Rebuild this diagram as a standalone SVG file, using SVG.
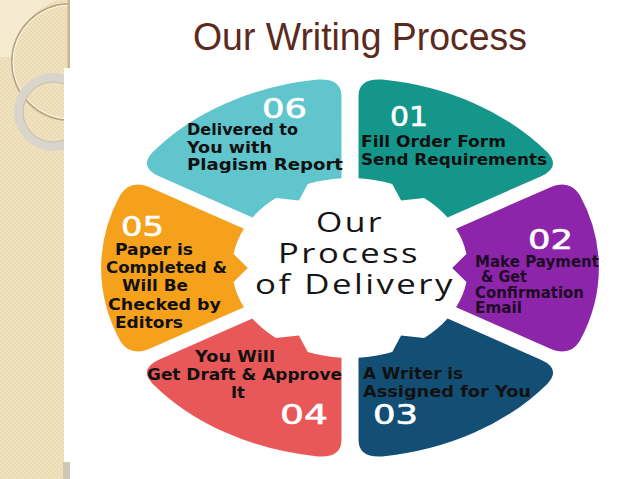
<svg xmlns="http://www.w3.org/2000/svg" xmlns:xlink="http://www.w3.org/1999/xlink" width="638" height="479" viewBox="0 0 638 479">
<defs>
<pattern id="chk" width="4" height="4" patternUnits="userSpaceOnUse">
<rect width="4" height="4" fill="#f1e2bf"/>
<rect width="2" height="2" fill="#ecdcb6"/>
<rect x="2" y="2" width="2" height="2" fill="#ecdcb6"/>
</pattern>
<clipPath id="side"><rect x="0" y="0" width="68" height="479"/></clipPath>
<path id="seg" d="M6.5,-89.76 L6.5,-172 Q6.5,-189.9 24.47,-188.42 A190,190 0 0 1 150.9,-115.4 Q161.2,-100.6 145.6,-91.6 L74.5,-50.5 A90,90 0 0 0 56.64,-69.94 L39,-67.55 L32.25,-84.02 A90,90 0 0 0 6.5,-89.76 Z"/>
<style>
.lbl{font-family:"DejaVu Sans","Liberation Sans",sans-serif;font-weight:bold;font-size:15px;fill:#111;}
.num{font-family:"DejaVu Sans","Liberation Sans",sans-serif;font-size:27px;fill:#fff;stroke:#fff;stroke-width:0.6;}
.ctr{font-family:"Open Sans","Liberation Sans",sans-serif;font-size:28px;fill:#151515;letter-spacing:2px;}
.title{font-family:"Liberation Sans",Arial,sans-serif;font-size:38px;fill:#5c2a1c;}
</style>
</defs>
<rect width="638" height="479" fill="#ffffff"/>
<g id="sidebar">
<rect x="0" y="0" width="70" height="479" fill="url(#chk)"/>
<g clip-path="url(#side)">
<path d="M0,0 H57 Q22,14 13,57 H0 Z" fill="#f7edd6" opacity="0.8"/>
<circle cx="70" cy="62" r="58" fill="none" stroke="#b9a680" stroke-width="2"/>
<circle cx="70" cy="62" r="57" fill="none" stroke="#fffaf0" stroke-width="1"/>
<circle cx="53" cy="112" r="34.5" fill="none" stroke="#d9d5ca" stroke-width="9"/>
<circle cx="53" cy="112" r="30" fill="none" stroke="#c4bfb2" stroke-width="1"/>
</g>
<rect x="67.5" y="0" width="2.5" height="68" fill="#c9b58e"/>
<rect x="63" y="462" width="7" height="17" fill="#cfc7b6"/>
<rect x="64" y="68" width="574" height="394" fill="#ffffff"/>
</g>
<text class="title" x="193" y="50" textLength="334" lengthAdjust="spacingAndGlyphs">Our Writing Process</text>
<g id="step01">
<use xlink:href="#seg" href="#seg" transform="translate(350,268) scale(1.31,1)" fill="#15968a"/>
<text class="num" x="390" y="126" textLength="38" lengthAdjust="spacingAndGlyphs">01</text>
<text class="lbl" x="361" y="147" textLength="145" lengthAdjust="spacingAndGlyphs">Fill Order Form</text>
<text class="lbl" x="361" y="165" textLength="186" lengthAdjust="spacingAndGlyphs">Send Requirements</text>
</g>
<g id="step02">
<use xlink:href="#seg" href="#seg" transform="translate(350,268) scale(1.31,1) rotate(60)" fill="#8c25aa"/>
<text class="num" x="528" y="249" textLength="45" lengthAdjust="spacingAndGlyphs">02</text>
<text class="lbl" x="475" y="267" textLength="124" lengthAdjust="spacingAndGlyphs" style="fill:#1e0a26">Make Payment</text>
<text class="lbl" x="481" y="282" textLength="46" lengthAdjust="spacingAndGlyphs" style="fill:#1e0a26">&amp; Get</text>
<text class="lbl" x="475" y="298" textLength="109" lengthAdjust="spacingAndGlyphs" style="fill:#1e0a26">Confirmation</text>
<text class="lbl" x="475" y="313" textLength="47" lengthAdjust="spacingAndGlyphs" style="fill:#1e0a26">Email</text>
</g>
<g id="step03">
<use xlink:href="#seg" href="#seg" transform="translate(350,268) scale(1.31,1) rotate(120)" fill="#134f74"/>
<text class="lbl" x="363" y="379" textLength="100" lengthAdjust="spacingAndGlyphs">A Writer is</text>
<text class="lbl" x="363" y="397" textLength="168" lengthAdjust="spacingAndGlyphs">Assigned for You</text>
<text class="num" x="373" y="424" textLength="45" lengthAdjust="spacingAndGlyphs">03</text>
</g>
<g id="step04">
<use xlink:href="#seg" href="#seg" transform="translate(350,268) scale(1.31,1) rotate(180)" fill="#e95858"/>
<text class="lbl" x="195" y="362" textLength="80" lengthAdjust="spacingAndGlyphs">You Will</text>
<text class="lbl" x="147" y="380" textLength="195" lengthAdjust="spacingAndGlyphs">Get Draft &amp; Approve</text>
<text class="lbl" x="231" y="398" textLength="14" lengthAdjust="spacingAndGlyphs">It</text>
<text class="num" x="280" y="424" textLength="48" lengthAdjust="spacingAndGlyphs">04</text>
</g>
<g id="step05">
<use xlink:href="#seg" href="#seg" transform="translate(350,268) scale(1.31,1) rotate(240)" fill="#f5a11b"/>
<text class="num" x="121" y="236" textLength="43" lengthAdjust="spacingAndGlyphs">05</text>
<text class="lbl" x="115" y="255" textLength="78" lengthAdjust="spacingAndGlyphs">Paper is</text>
<text class="lbl" x="106" y="273" textLength="121" lengthAdjust="spacingAndGlyphs">Completed &amp;</text>
<text class="lbl" x="122" y="291" textLength="66" lengthAdjust="spacingAndGlyphs">Will Be</text>
<text class="lbl" x="108" y="310" textLength="113" lengthAdjust="spacingAndGlyphs">Checked by</text>
<text class="lbl" x="115" y="328" textLength="68" lengthAdjust="spacingAndGlyphs">Editors</text>
</g>
<g id="step06">
<use xlink:href="#seg" href="#seg" transform="translate(350,268) scale(1.31,1) rotate(300)" fill="#60c5cc"/>
<text class="num" x="262" y="118" textLength="45" lengthAdjust="spacingAndGlyphs">06</text>
<text class="lbl" x="187" y="135" textLength="111" lengthAdjust="spacingAndGlyphs">Delivered to</text>
<text class="lbl" x="187" y="153" textLength="85" lengthAdjust="spacingAndGlyphs">You with</text>
<text class="lbl" x="187" y="170" textLength="156" lengthAdjust="spacingAndGlyphs">Plagism Report</text>
</g>
<g id="center">
<text class="ctr" x="316" y="232" textLength="68" lengthAdjust="spacingAndGlyphs">Our</text>
<text class="ctr" x="278" y="263" textLength="142" lengthAdjust="spacingAndGlyphs">Process</text>
<text class="ctr" x="255" y="294" textLength="200" lengthAdjust="spacingAndGlyphs">of Delivery</text>
</g>
<g id="connectors"/>
</svg>
